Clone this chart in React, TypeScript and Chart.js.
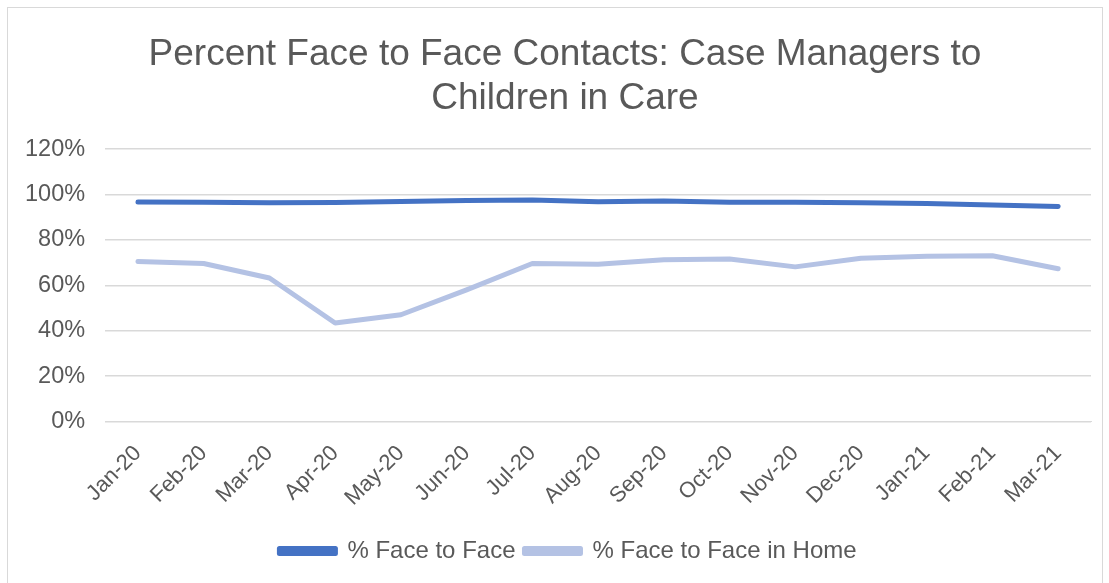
import React, { useEffect, useRef } from "react";
import { Chart, registerables } from "chart.js";

Chart.register(...registerables);

const categories = ["Jan-20", "Feb-20", "Mar-20", "Apr-20", "May-20", "Jun-20", "Jul-20", "Aug-20", "Sep-20", "Oct-20", "Nov-20", "Dec-20", "Jan-21", "Feb-21", "Mar-21"];
const faceToFace = [96.7, 96.6, 96.4, 96.5, 96.9, 97.3, 97.6, 96.8, 97.1, 96.6, 96.6, 96.4, 96.0, 95.4, 94.7];
const faceToFaceInHome = [70.5, 69.6, 63.2, 43.4, 47.0, 58.0, 69.6, 69.3, 71.2, 71.6, 68.1, 71.9, 72.8, 73.0, 67.3];
const titleLines = ["Percent Face to Face Contacts: Case Managers to", "Children in Care"];
const seriesNames = ["% Face to Face", "% Face to Face in Home"];

const FONT = "'Liberation Sans', Arial, sans-serif";
const TEXT = "#595959";

const shiftBoxes = {
  id: "shiftBoxes",
  afterLayout(chart: any) {
    if (chart.titleBlock) {
      chart.titleBlock.left += 17;
      chart.titleBlock.right += 17;
    }
    if (chart.legend) {
      chart.legend.left += 20;
      chart.legend.right += 20;
    }
  },
};

export default function App() {
  const ref = useRef<HTMLCanvasElement>(null);
  useEffect(() => {
    const chart = new Chart(ref.current!, {
      type: "line",
      data: {
        labels: categories,
        datasets: [
          {
            label: seriesNames[0],
            data: faceToFace,
            borderColor: "#4472C4",
            backgroundColor: "#4472C4",
            borderWidth: 5,
            pointRadius: 0,
            borderCapStyle: "round",
            borderJoinStyle: "round",
          },
          {
            label: seriesNames[1],
            data: faceToFaceInHome,
            borderColor: "#B4C2E4",
            backgroundColor: "#B4C2E4",
            borderWidth: 5,
            pointRadius: 0,
            borderCapStyle: "round",
            borderJoinStyle: "round",
          },
        ],
      },
      plugins: [shiftBoxes],
      options: {
        responsive: false,
        animation: false,
        devicePixelRatio: 1,
        layout: { padding: { left: 5, right: 18, top: 33, bottom: 10 } },
        plugins: {
          title: {
            display: true,
            text: titleLines,
            color: TEXT,
            font: { family: FONT, size: 37, weight: "normal", lineHeight: 1.19 },
            padding: { top: 0, bottom: 28 },
          },
          legend: {
            position: "bottom",
            labels: {
              color: TEXT,
              font: { family: FONT, size: 24 },
              boxWidth: 56,
              boxHeight: 5,
              padding: 9,
            },
          },
          tooltip: { enabled: false },
        },
        scales: {
          x: {
            offset: true,
            grid: { display: false, drawTicks: false },
            border: { display: true, color: "#d9d9d9" },
            ticks: {
              color: TEXT,
              font: { family: FONT, size: 22 },
              maxRotation: 45,
              minRotation: 45,
              padding: 19,
            },
          },
          y: {
            min: 0,
            max: 120,
            grid: { color: "#d9d9d9", lineWidth: 1.5, drawTicks: false },
            border: { display: false },
            ticks: {
              stepSize: 20,
              color: TEXT,
              font: { family: FONT, size: 23.5 },
              padding: 20,
              callback: (v: any) => v + "%",
            },
          },
        },
      },
    });
    return () => chart.destroy();
  }, []);
  return (
    <div style={{ position: "absolute", left: 0, top: 0, width: 1109, height: 583, background: "#fff" }}>
      <div style={{ position: "absolute", left: 7, top: 7, width: 1094, height: 590, border: "1px solid #d9d9d9" }} />
      <canvas ref={ref} width={1109} height={583} style={{ position: "absolute", left: 0, top: 0 }} />
    </div>
  );
}
